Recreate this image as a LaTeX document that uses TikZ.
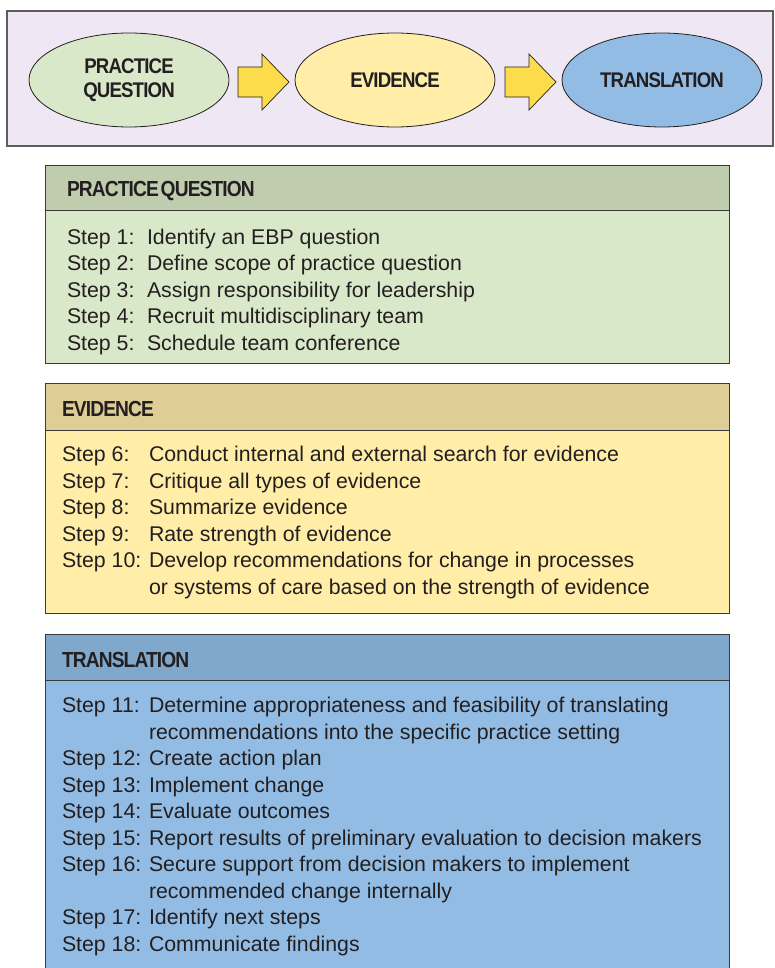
\documentclass[tikz,border=0pt]{standalone}
\usepackage{fontspec}
\setmainfont{Liberation Sans}
\newfontfamily\headfont{Liberation Sans}[FakeStretch=0.88,LetterSpace=-4,WordSpace=0.4]

\definecolor{ink}{HTML}{231F20}
\definecolor{frameline}{HTML}{5F5C60}
\definecolor{framefill}{HTML}{EFE8F4}
\definecolor{boxline}{HTML}{3A3A3A}
\definecolor{pqbody}{HTML}{D9E8C9}
\definecolor{pqhead}{HTML}{BFCCAE}
\definecolor{evbody}{HTML}{FFEDA8}
\definecolor{evhead}{HTML}{DECD95}
\definecolor{trbody}{HTML}{93BCE4}
\definecolor{trhead}{HTML}{7FA8CC}
\definecolor{arrowfill}{HTML}{FDDC4C}

\usetikzlibrary{shapes.geometric}

\tikzset{
  every node/.style={inner sep=0pt, outer sep=0pt, text=ink},
  phase/.style={ellipse, draw=ink, line width=0.8pt, minimum width=200pt,
    minimum height=94pt, align=center,
    font=\headfont\bfseries\fontsize{21.2}{24}\selectfont},
  panel/.style={draw=boxline, line width=0.9pt, anchor=north west,
    minimum width=684pt},
  headlbl/.style={anchor=base west,
    font=\headfont\bfseries\fontsize{21.8}{24}\selectfont},
  steplbl/.style={anchor=base west, font=\fontsize{21.3}{25}\selectfont},
  fatarrow/.pic={
    \draw[draw=ink, line width=0.7pt, fill=arrowfill]
      (0,-15) -- (24,-15) -- (24,-28) -- (51,0) -- (24,28) -- (24,15)
      -- (0,15) -- cycle;
  }
}

\begin{document}
\begin{tikzpicture}[x=1pt, y=-1pt]
\useasboundingbox (0,0) rectangle (774,968);

% process overview strip
\node[draw=frameline, line width=1.4pt, fill=framefill, anchor=north west,
  minimum width=766pt, minimum height=135pt] (flow) at (7,11) {};
\node[phase, fill=pqbody] (pq) at (129,80) {PRACTICE\\QUESTION};
\node[phase, fill=evbody] (ev) at (395,80) {EVIDENCE};
\node[phase, fill=trbody] (tr) at (662,80) {TRANSLATION};
\pic at (238,82) {fatarrow};
\pic at (505,82) {fatarrow};

% practice question panel
\node[panel, fill=pqbody, minimum height=198pt] (pqbox) at (45,165) {};
\node[panel, fill=pqhead, minimum height=45pt] (pqhd) at (45,165) {};
\node[headlbl] (pqtitle) at (67,197) {PRACTICE QUESTION};
\node[steplbl] (s1)  at (67,244) {Step 1:};
\node[steplbl] (d1)  at (147,244) {Identify an EBP question};
\node[steplbl] (s2)  at (67,270.5) {Step 2:};
\node[steplbl] (d2)  at (147,270.5) {Define scope of practice question};
\node[steplbl] (s3)  at (67,297) {Step 3:};
\node[steplbl] (d3)  at (147,297) {Assign responsibility for leadership};
\node[steplbl] (s4)  at (67,323.5) {Step 4:};
\node[steplbl] (d4)  at (147,323.5) {Recruit multidisciplinary team};
\node[steplbl] (s5)  at (67,350) {Step 5:};
\node[steplbl] (d5)  at (147,350) {Schedule team conference};

% evidence panel
\node[panel, fill=evbody, minimum height=230pt] (evbox) at (45,383) {};
\node[panel, fill=evhead, minimum height=47pt] (evhd) at (45,383) {};
\node[headlbl] (evtitle) at (62,416) {EVIDENCE};
\node[steplbl] (s6)  at (62,461) {Step 6:};
\node[steplbl] (d6)  at (149,461) {Conduct internal and external search for evidence};
\node[steplbl] (s7)  at (62,488) {Step 7:};
\node[steplbl] (d7)  at (149,488) {Critique all types of evidence};
\node[steplbl] (s8)  at (62,514.5) {Step 8:};
\node[steplbl] (d8)  at (149,514.5) {Summarize evidence};
\node[steplbl] (s9)  at (62,541) {Step 9:};
\node[steplbl] (d9)  at (149,541) {Rate strength of evidence};
\node[steplbl] (s10) at (62,567.5) {Step 10:};
\node[steplbl] (d10) at (149,567.5) {Develop recommendations for change in processes};
\node[steplbl] (d10b) at (149,594) {or systems of care based on the strength of evidence};

% translation panel
\node[panel, fill=trbody, minimum height=345pt] (trbox) at (45,634) {};
\node[panel, fill=trhead, minimum height=46pt] (trhd) at (45,634) {};
\node[headlbl] (trtitle) at (62,667) {TRANSLATION};
\node[steplbl] (s11) at (62,712.5) {Step 11:};
\node[steplbl] (d11) at (149,712.5) {Determine appropriateness and feasibility of translating};
\node[steplbl] (d11b) at (149,739) {recommendations into the specific practice setting};
\node[steplbl] (s12) at (62,765.5) {Step 12:};
\node[steplbl] (d12) at (149,765.5) {Create action plan};
\node[steplbl] (s13) at (62,792) {Step 13:};
\node[steplbl] (d13) at (149,792) {Implement change};
\node[steplbl] (s14) at (62,818.5) {Step 14:};
\node[steplbl] (d14) at (149,818.5) {Evaluate outcomes};
\node[steplbl] (s15) at (62,845) {Step 15:};
\node[steplbl] (d15) at (149,845) {Report results of preliminary evaluation to decision makers};
\node[steplbl] (s16) at (62,871.5) {Step 16:};
\node[steplbl] (d16) at (149,871.5) {Secure support from decision makers to implement};
\node[steplbl] (d16b) at (149,898) {recommended change internally};
\node[steplbl] (s17) at (62,924.5) {Step 17:};
\node[steplbl] (d17) at (149,924.5) {Identify next steps};
\node[steplbl] (s18) at (62,951) {Step 18:};
\node[steplbl] (d18) at (149,951) {Communicate findings};
\end{tikzpicture}
\end{document}
